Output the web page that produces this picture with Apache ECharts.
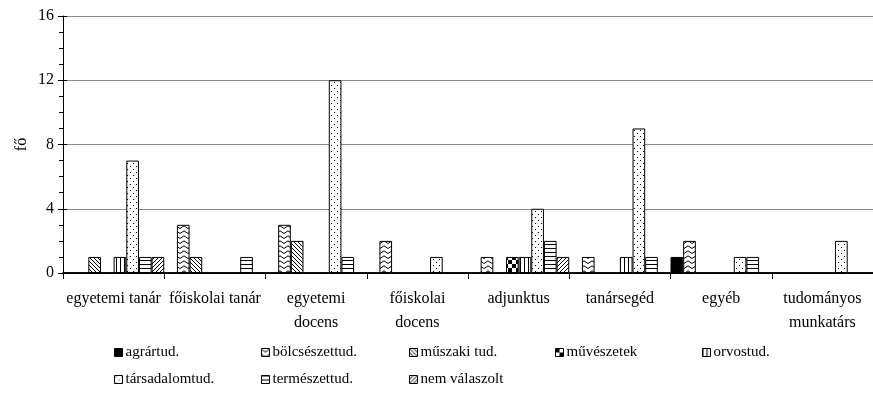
<!DOCTYPE html>
<html>
<head>
<meta charset="utf-8">
<script src="https://cdn.jsdelivr.net/npm/echarts@6/dist/echarts.min.js"></script>
<style>
  html, body { margin: 0; padding: 0; background: #fff; }
  #chart { width: 873px; height: 398px; }
</style>
</head>
<body>
<div id="chart"></div>
<script>
// Position categories (multi-word names broken onto two lines where they wrap)
const categories = ['egyetemi tanár', 'főiskolai tanár', 'egyetemi\ndocens', 'főiskolai\ndocens',
  'adjunktus', 'tanársegéd', 'egyéb', 'tudományos\nmunkatárs'];

// Headcount per field of science
const agrartud        = [0, 0, 0, 0, 0, 0, 1, 0];
const bolcseszettud   = [0, 3, 3, 2, 1, 1, 2, 0];
const muszakiTud      = [1, 1, 2, 0, 0, 0, 0, 0];
const muveszetek      = [0, 0, 0, 0, 1, 0, 0, 0];
const orvostud        = [1, 0, 0, 0, 1, 1, 0, 0];
const tarsadalomtud   = [7, 0, 12, 1, 4, 9, 1, 2];
const termeszettud    = [1, 1, 1, 0, 2, 1, 1, 0];
const nemValaszolt    = [1, 0, 0, 0, 1, 0, 0, 0];

const seriesNames = ['agrártud.', 'bölcsészettud.', 'műszaki tud.', 'művészetek',
  'orvostud.', 'társadalomtud.', 'természettud.', 'nem válaszolt'];
const seriesValues = [agrartud, bolcseszettud, muszakiTud, muveszetek,
  orvostud, tarsadalomtud, termeszettud, nemValaszolt];

const yTicks = [0, 4, 8, 12, 16];

// Black-and-white fill patterns drawn on small canvases
function makeTile(w, h, draw) {
  const c = document.createElement('canvas');
  c.width = w; c.height = h;
  const ctx = c.getContext('2d');
  ctx.fillStyle = '#fff';
  ctx.fillRect(0, 0, w, h);
  ctx.fillStyle = '#000';
  ctx.strokeStyle = '#000';
  ctx.lineWidth = 1;
  draw(ctx, w, h);
  return { image: c, repeat: 'repeat' };
}

const patterns = [
  // solid
  '#000',
  // zigzag
  makeTile(8, 5, (ctx) => {
    ctx.beginPath();
    ctx.moveTo(-0.5, 0.5); ctx.lineTo(4, 3.5); ctx.lineTo(8.5, 0.5);
    ctx.stroke();
  }),
  // backslash diagonals
  makeTile(4, 4, (ctx) => {
    ctx.fillRect(0, 0, 1, 1); ctx.fillRect(1, 1, 1, 1);
    ctx.fillRect(2, 2, 1, 1); ctx.fillRect(3, 3, 1, 1);
  }),
  // large checkerboard
  makeTile(8, 8, (ctx) => {
    ctx.fillRect(0, 0, 4, 4); ctx.fillRect(4, 4, 4, 4);
  }),
  // vertical lines
  makeTile(4, 4, (ctx) => { ctx.fillRect(0, 0, 1, 4); }),
  // sparse dots
  makeTile(6, 6, (ctx) => {
    ctx.fillRect(1, 1, 1, 1); ctx.fillRect(4, 4, 1, 1);
  }),
  // horizontal lines
  makeTile(4, 4, (ctx) => { ctx.fillRect(0, 0, 4, 1); }),
  // forward-slash diagonals
  makeTile(4, 4, (ctx) => {
    ctx.fillRect(3, 0, 1, 1); ctx.fillRect(2, 1, 1, 1);
    ctx.fillRect(1, 2, 1, 1); ctx.fillRect(0, 3, 1, 1);
  })
];

const font = '"Liberation Serif", "Times New Roman", serif';
const axisFontSize = 16;
const legendFontSize = 15;

// One legend block per entry so the columns sit on an even grid
const legendLeft = [114, 261, 409, 555, 702, 114, 261, 409];
const legendTop  = [345, 345, 345, 345, 345, 372, 372, 372];
const legends = seriesNames.map((name, i) => ({
  data: [name],
  left: legendLeft[i],
  top: legendTop[i],
  icon: 'rect',
  itemWidth: 8,
  itemHeight: 8,
  itemGap: 0,
  padding: 0,
  selectedMode: false,
  itemStyle: { borderColor: '#000', borderWidth: 1 },
  textStyle: { fontFamily: font, fontSize: legendFontSize, color: '#000', padding: [0, 0, 0, -2] }
}));

const chart = echarts.init(document.getElementById('chart'), null, { renderer: 'canvas' });

chart.setOption({
  animation: false,
  backgroundColor: '#fff',
  grid: { left: 63, right: -12, top: 16, bottom: 125, containLabel: false },
  legend: legends,
  xAxis: [{
    type: 'category',
    data: categories,
    axisLine: { lineStyle: { color: '#000', width: 1 } },
    axisTick: { show: true, length: 6, lineStyle: { color: '#000' } },
    axisLabel: {
      fontFamily: font, fontSize: axisFontSize, color: '#000',
      margin: 14, lineHeight: 24, interval: 0
    },
    splitLine: { show: false }
  }, {
    type: 'category',
    data: categories,
    position: 'top',
    axisLine: { lineStyle: { color: '#000', width: 1.5 } },
    axisTick: { show: false },
    axisLabel: { show: false }
  }],
  yAxis: [{
    type: 'value',
    min: yTicks[0],
    max: yTicks[yTicks.length - 1],
    interval: 4,
    name: 'fő',
    nameLocation: 'middle',
    nameRotate: 90,
    nameGap: 33,
    nameMoveOverlap: false,
    nameTextStyle: { fontFamily: font, fontSize: axisFontSize, color: '#000' },
    axisLine: { show: true, lineStyle: { color: '#000', width: 1 } },
    axisTick: { show: true, length: 5, lineStyle: { color: '#000' } },
    minorTick: { show: true, splitNumber: 4, length: 4, lineStyle: { color: '#000' } },
    axisLabel: { fontFamily: font, fontSize: axisFontSize, color: '#000', margin: 9 },
    splitLine: { show: true, lineStyle: { color: '#8c8c8c', width: 1 } }
  }, {
    // inner half of the crossing major ticks
    type: 'value',
    min: yTicks[0],
    max: yTicks[yTicks.length - 1],
    interval: 4,
    position: 'left',
    axisLine: { show: false },
    axisTick: { show: true, inside: true, length: 4, lineStyle: { color: '#000' } },
    axisLabel: { show: false },
    splitLine: { show: false }
  }],
  series: seriesNames.map((name, i) => ({
    name: name,
    type: 'bar',
    xAxisIndex: 0,
    yAxisIndex: 0,
    data: seriesValues[i],
    barGap: '0%',
    barCategoryGap: '0%',
    itemStyle: { color: patterns[i], borderColor: '#000', borderWidth: 1 }
  }))
});
</script>
</body>
</html>
